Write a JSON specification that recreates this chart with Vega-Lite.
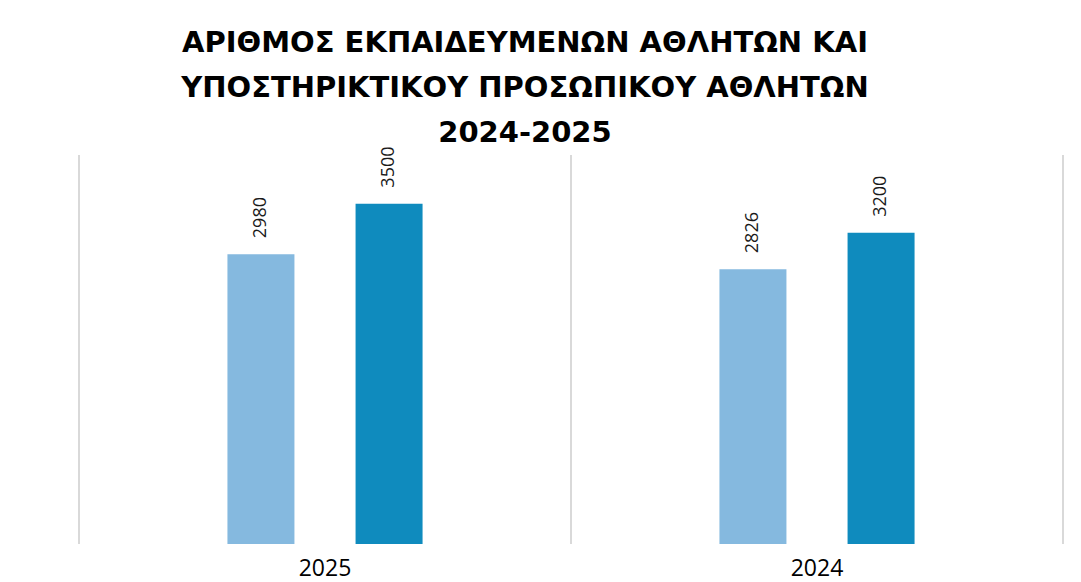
{
  "$schema": "https://vega.github.io/schema/vega-lite/v6.json",
  "width": 984,
  "height": 389,
  "autosize": {"type": "none"},
  "padding": {"left": 79, "top": 155, "right": 18, "bottom": 38},
  "background": "white",
  "config": {"view": {"stroke": null}},
  "title": {
    "text": ["ΑΡΙΘΜΟΣ ΕΚΠΑΙΔΕΥΜΕΝΩΝ ΑΘΛΗΤΩΝ ΚΑΙ", "ΥΠΟΣΤΗΡΙΚΤΙΚΟΥ ΠΡΟΣΩΠΙΚΟΥ ΑΘΛΗΤΩΝ", "2024-2025"],
    "font": "DejaVu Sans",
    "fontWeight": "bold",
    "fontSize": 29,
    "lineHeight": 45,
    "color": "#000000",
    "anchor": "middle",
    "dx": -46,
    "offset": -2
  },
  "data": {
    "values": [
      {"year": "2025", "series": "Εκπαιδευμένοι αθλητές", "value": 2980},
      {"year": "2025", "series": "Υποστηρικτικό προσωπικό", "value": 3500},
      {"year": "2024", "series": "Εκπαιδευμένοι αθλητές", "value": 2826},
      {"year": "2024", "series": "Υποστηρικτικό προσωπικό", "value": 3200}
    ]
  },
  "encoding": {
    "x": {
      "field": "year",
      "type": "nominal",
      "sort": ["2025", "2024"],
      "scale": {"paddingInner": 0, "paddingOuter": 0},
      "axis": {
        "title": null,
        "domain": false,
        "ticks": false,
        "grid": false,
        "labelAngle": 0,
        "labelFont": "Open Sans",
        "labelFontSize": 23,
        "labelColor": "#000000",
        "labelPadding": 13
      }
    }
  },
  "layer": [
    {
      "mark": {"type": "rule", "color": "#d9d9d9", "strokeWidth": 2},
      "encoding": {
        "x": {"field": "year", "type": "nominal", "sort": ["2025", "2024"], "bandPosition": 0}
      }
    },
    {
      "mark": {"type": "rule", "color": "#d9d9d9", "strokeWidth": 2},
      "encoding": {
        "x": {"datum": "2024", "type": "nominal", "bandPosition": 1}
      }
    },
    {
      "mark": {"type": "bar", "width": 67},
      "encoding": {
        "xOffset": {
          "field": "series",
          "type": "nominal",
          "scale": {"paddingInner": 0.16, "paddingOuter": 1}
        },
        "y": {
          "field": "value",
          "type": "quantitative",
          "scale": {"domain": [0, 4000]},
          "axis": null
        },
        "color": {
          "field": "series",
          "type": "nominal",
          "scale": {"range": ["#85B9DF", "#0F8BBE"]},
          "legend": null
        }
      }
    },
    {
      "mark": {
        "type": "text",
        "angle": -90,
        "align": "left",
        "baseline": "middle",
        "yOffset": -16,
        "font": "Open Sans",
        "fontSize": 18,
        "color": "#1a1a1a"
      },
      "encoding": {
        "xOffset": {
          "field": "series",
          "type": "nominal",
          "scale": {"paddingInner": 0.16, "paddingOuter": 1}
        },
        "y": {"field": "value", "type": "quantitative", "scale": {"domain": [0, 4000]}, "axis": null},
        "text": {"field": "value", "type": "quantitative"}
      }
    }
  ]
}
